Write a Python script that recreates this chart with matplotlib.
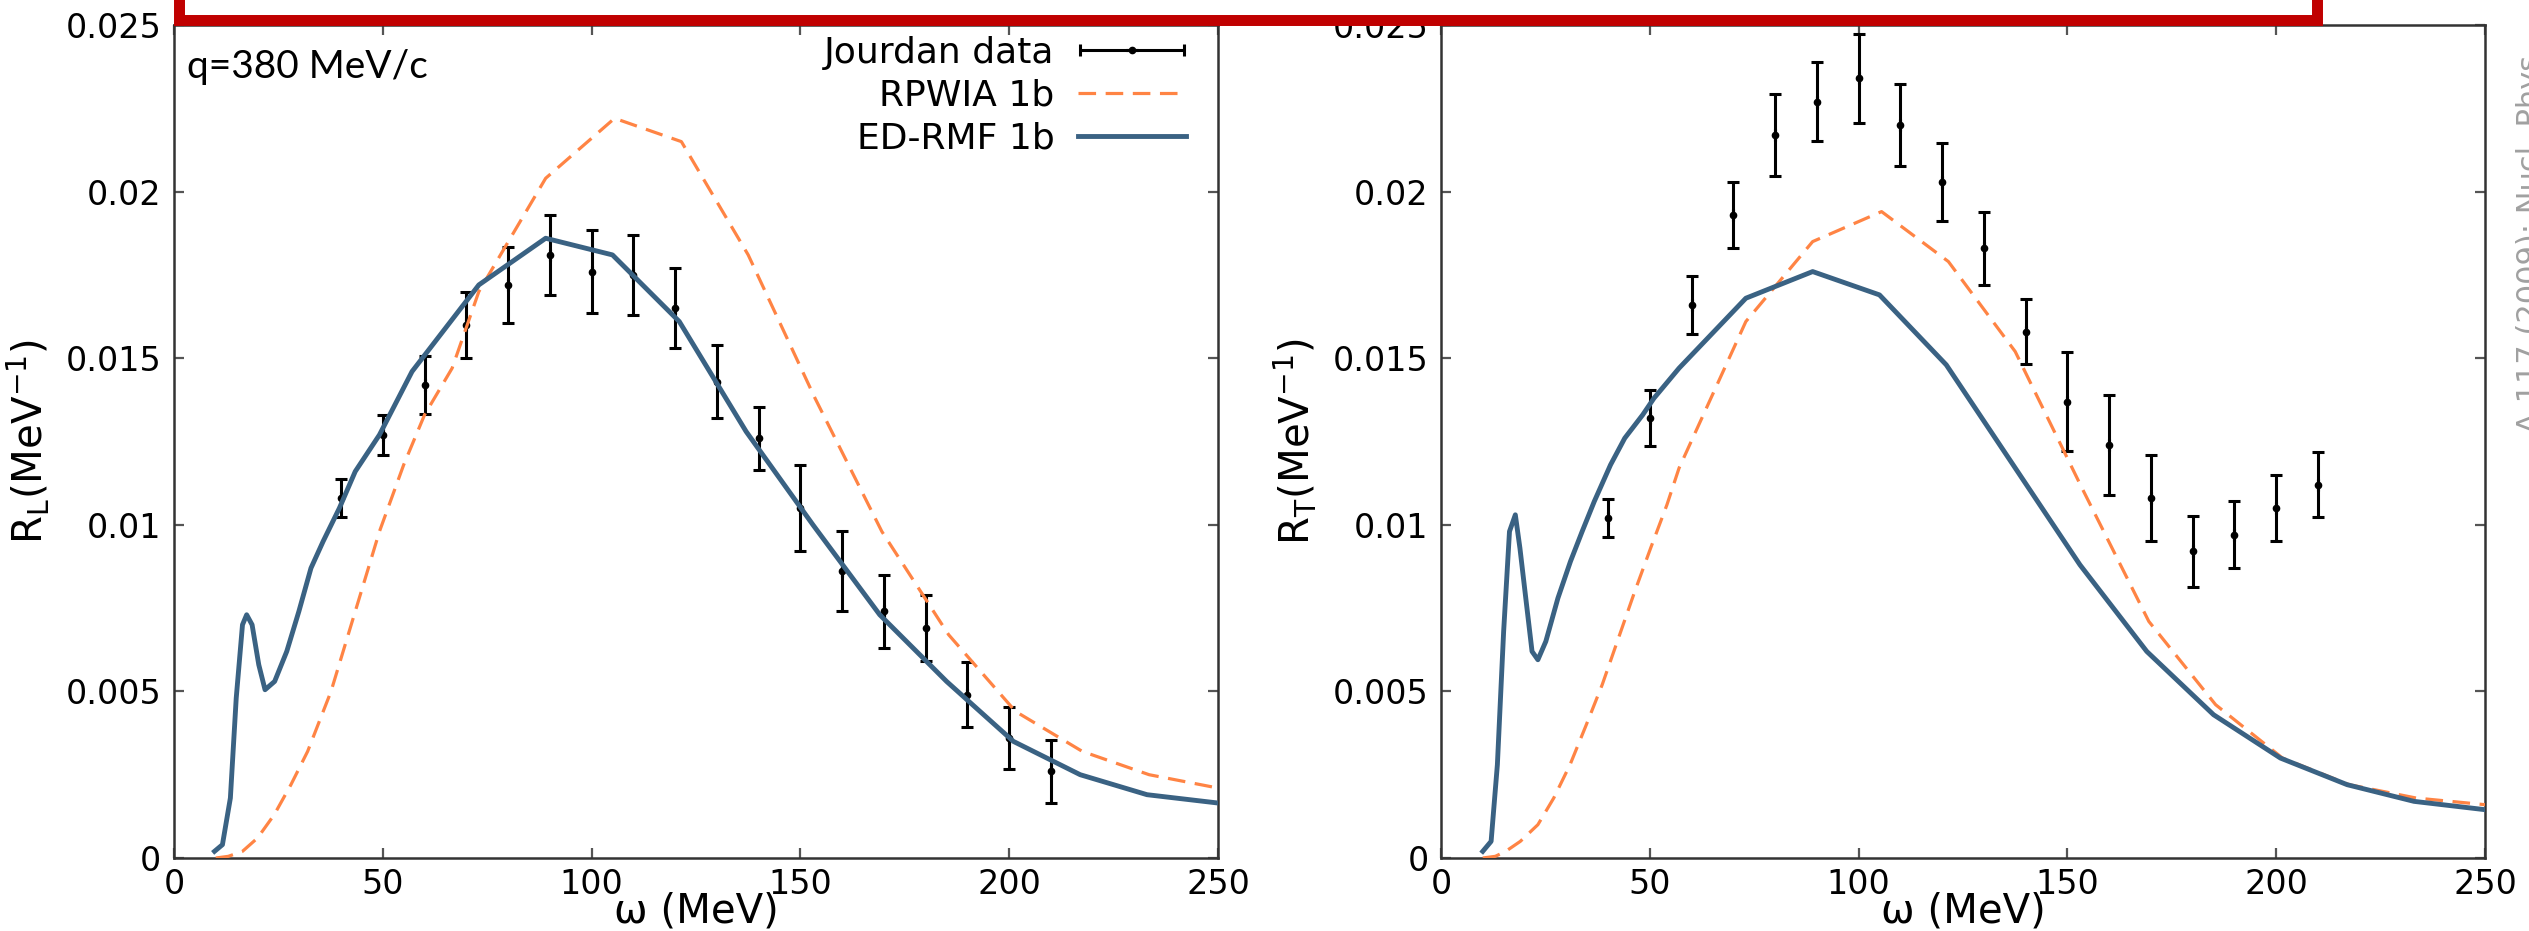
import matplotlib
matplotlib.use('Agg')
import matplotlib.pyplot as plt
from matplotlib.patches import Rectangle
from matplotlib.legend_handler import HandlerErrorbar
from matplotlib.container import ErrorbarContainer
import numpy as np

# ---------------- data ----------------
omega_data = [40, 50, 60, 70, 80, 90, 100, 110, 120, 130, 140, 150, 160, 170, 180, 190, 200, 210]

RL_data = [0.0108, 0.0127, 0.0142, 0.0160, 0.0172, 0.0181, 0.0176, 0.0175, 0.0165, 0.0143,
           0.0126, 0.0105, 0.0086, 0.0074, 0.0069, 0.0049, 0.0036, 0.0026]
RL_err = [0.00058, 0.0006, 0.00086, 0.0010, 0.00115, 0.0012, 0.00125, 0.0012, 0.0012, 0.0011,
          0.00095, 0.0013, 0.0012, 0.0011, 0.0010, 0.00097, 0.00092, 0.00095]

RT_data = [0.0102, 0.0132, 0.0166, 0.0193, 0.0217, 0.0227, 0.0234, 0.0220, 0.0203, 0.0183,
           0.0158, 0.0137, 0.0124, 0.0108, 0.0092, 0.0097, 0.0105, 0.0112]
RT_err = [0.00056, 0.00085, 0.00088, 0.0010, 0.00123, 0.00118, 0.00133, 0.00123, 0.00117, 0.0011,
          0.00097, 0.0015, 0.0015, 0.0013, 0.00107, 0.0010, 0.00098, 0.00098]

# RPWIA 1b, longitudinal
om_rpwia_L = [10, 13, 16.4, 20, 24, 28, 32, 37.6, 43.4, 49.2, 55, 60, 66.6, 73, 89, 105.5,
              121.5, 137.5, 153.5, 169.5, 185.5, 201.5, 217.5, 233.5, 250]
RL_rpwia = [0.0, 0.00005, 0.0002, 0.0006, 0.0013, 0.0022, 0.0032, 0.0050, 0.0074, 0.0098, 0.0118,
            0.0133, 0.0147, 0.0170, 0.0204, 0.0222, 0.0215, 0.0181, 0.0138, 0.0098, 0.0067,
            0.0044, 0.0032, 0.0025, 0.0021]

# ED-RMF 1b, longitudinal
om_edrmf_L = [9.7, 11.6, 13.5, 14.9, 16.4, 17.4, 18.7, 20.3, 21.8, 24.1, 27, 29.9, 32.8, 35.7,
              39.6, 43.4, 49.2, 57, 73, 89, 105, 121, 137, 153, 169, 185, 201, 217, 233, 250]
RL_edrmf = [0.0002, 0.0004, 0.0018, 0.0048, 0.0070, 0.0073, 0.0070, 0.0058, 0.00505, 0.0053,
            0.0062, 0.0074, 0.0087, 0.0095, 0.0105, 0.0116, 0.0127, 0.0146, 0.0172, 0.0186,
            0.0181, 0.0161, 0.0128, 0.0100, 0.0073, 0.0053, 0.0035, 0.0025, 0.0019, 0.00165]

# RPWIA 1b, transverse
om_rpwia_T = [10, 13, 15.5, 19, 23.2, 27, 30.9, 34.8, 38.6, 42.5, 46.4, 50.2, 54.1, 57, 73, 89,
              105.5, 121.5, 137.5, 153.5, 169.5, 185.5, 201.5, 217.5, 233.5, 250]
RT_rpwia = [0.0, 0.00005, 0.0002, 0.0005, 0.0010, 0.0018, 0.0028, 0.0040, 0.0052, 0.0066, 0.0080,
            0.0093, 0.0106, 0.0117, 0.0161, 0.0185, 0.0194, 0.0179, 0.0152, 0.0111, 0.0071,
            0.0046, 0.0030, 0.0022, 0.0018, 0.0016]

# ED-RMF 1b, transverse
om_edrmf_T = [10, 12, 13.5, 15, 16.4, 17.8, 18.9, 20.3, 21.8, 23.2, 25.1, 28, 31, 33.8, 36.7,
              40.6, 44, 48.3, 51, 57, 73, 89, 105, 121, 137, 153, 169, 185, 201, 217, 233, 250]
RT_edrmf = [0.0002, 0.0005, 0.0028, 0.0068, 0.0098, 0.0103, 0.0093, 0.0078, 0.0062, 0.00595,
            0.0065, 0.0078, 0.0089, 0.0098, 0.0107, 0.0118, 0.0126, 0.0133, 0.0138, 0.0147,
            0.0168, 0.0176, 0.0169, 0.0148, 0.0118, 0.0088, 0.0062, 0.0043, 0.0030, 0.0022,
            0.0017, 0.00145]

xticks = [0, 50, 100, 150, 200, 250]
xtick_labels = ['0', '50', '100', '150', '200', '250']
yticks = [0, 0.005, 0.01, 0.015, 0.02, 0.025]
ytick_labels = ['0', '0.005', '0.01', '0.015', '0.02', '0.025']

BLUE = '#3a6283'
ORANGE = '#ff8444'

W, H = 2529, 931
fig = plt.figure(figsize=(W / 100, H / 100), dpi=100)
fig.patch.set_facecolor('white')

ax_l = fig.add_axes([174 / W, 1 - 858 / H, 1044 / W, 833 / H])
ax_r = fig.add_axes([1441 / W, 1 - 858 / H, 1044 / W, 833 / H])


def draw_panel(ax, data, err, om_rp, r_rp, om_ed, r_ed, ylab):
    eb = ax.errorbar(omega_data, data, yerr=err, xerr=np.zeros(len(omega_data)),
                     fmt='o', color='black', ms=4.5, elinewidth=2.2, capsize=4,
                     capthick=2.2, zorder=2, label='Jourdan data')
    l1, = ax.plot(om_rp, r_rp, color=ORANGE, lw=2.3, ls='--', dashes=(5.5, 3),
                  zorder=3, label='RPWIA 1b')
    l2, = ax.plot(om_ed, r_ed, color=BLUE, lw=3.5, zorder=4, label='ED-RMF 1b')

    ax.set_xlim(0, 250)
    ax.set_ylim(0, 0.025)
    ax.set_xticks(xticks)
    ax.set_xticklabels(xtick_labels)
    ax.set_yticks(yticks)
    ax.set_yticklabels(ytick_labels)
    ax.tick_params(direction='in', top=True, right=True, length=7, width=1.6,
                   color='#555555', labelsize=24)
    ax.tick_params(axis='y', pad=9)
    ax.tick_params(axis='x', pad=7)
    for s in ax.spines.values():
        s.set_color('#333333')
        s.set_linewidth(1.8)

    ax.set_ylabel(ylab, fontsize=29)
    ax.yaxis.set_label_coords(-0.117, 0.5)
    ax.set_xlabel('ω (MeV)', fontsize=29)
    ax.xaxis.set_label_coords(0.5, -0.040)
    return eb, l1, l2


eb, l1, l2 = draw_panel(ax_l, RL_data, RL_err, om_rpwia_L, RL_rpwia, om_edrmf_L, RL_edrmf,
                        r'R$_\mathrm{L}$(MeV$^\mathrm{-1}$)')
draw_panel(ax_r, RT_data, RT_err, om_rpwia_T, RT_rpwia, om_edrmf_T, RT_edrmf,
           r'R$_\mathrm{T}$(MeV$^\mathrm{-1}$)')

ax_l.text(0.0125, 0.936, 'q=380 MeV/c', transform=ax_l.transAxes, fontsize=28,
          family=['Lato', 'DejaVu Sans'], va='baseline', ha='left')

ax_l.legend(handles=[eb, l1, l2], loc='upper right', bbox_to_anchor=(0.98, 1.0),
            frameon=False, markerfirst=False, fontsize=26, handlelength=3.0,
            handletextpad=0.65, labelspacing=0.25, borderpad=0.3, borderaxespad=0,
            handler_map={ErrorbarContainer: HandlerErrorbar(xerr_size=1.45, yerr_size=0)})

# red title frame sticking in from the top (slide overlay)
frame = Rectangle((178.5 / W, 1 - 19.5 / H), (2317 - 178.5) / W, 0.2,
                  transform=fig.transFigure, facecolor='white', edgecolor='#c00000',
                  linewidth=7.9, clip_on=False, zorder=10)
fig.add_artist(frame)

# faint citation on the right edge, cut off by the page border
fig.text(2516 / W, 1 - 433 / H, 'A 117 (2009); Nucl. Phys.', rotation=90,
         color='#a0a0a0', fontsize=22, ha='left', va='bottom')

fig.savefig('out.png', dpi=100)
